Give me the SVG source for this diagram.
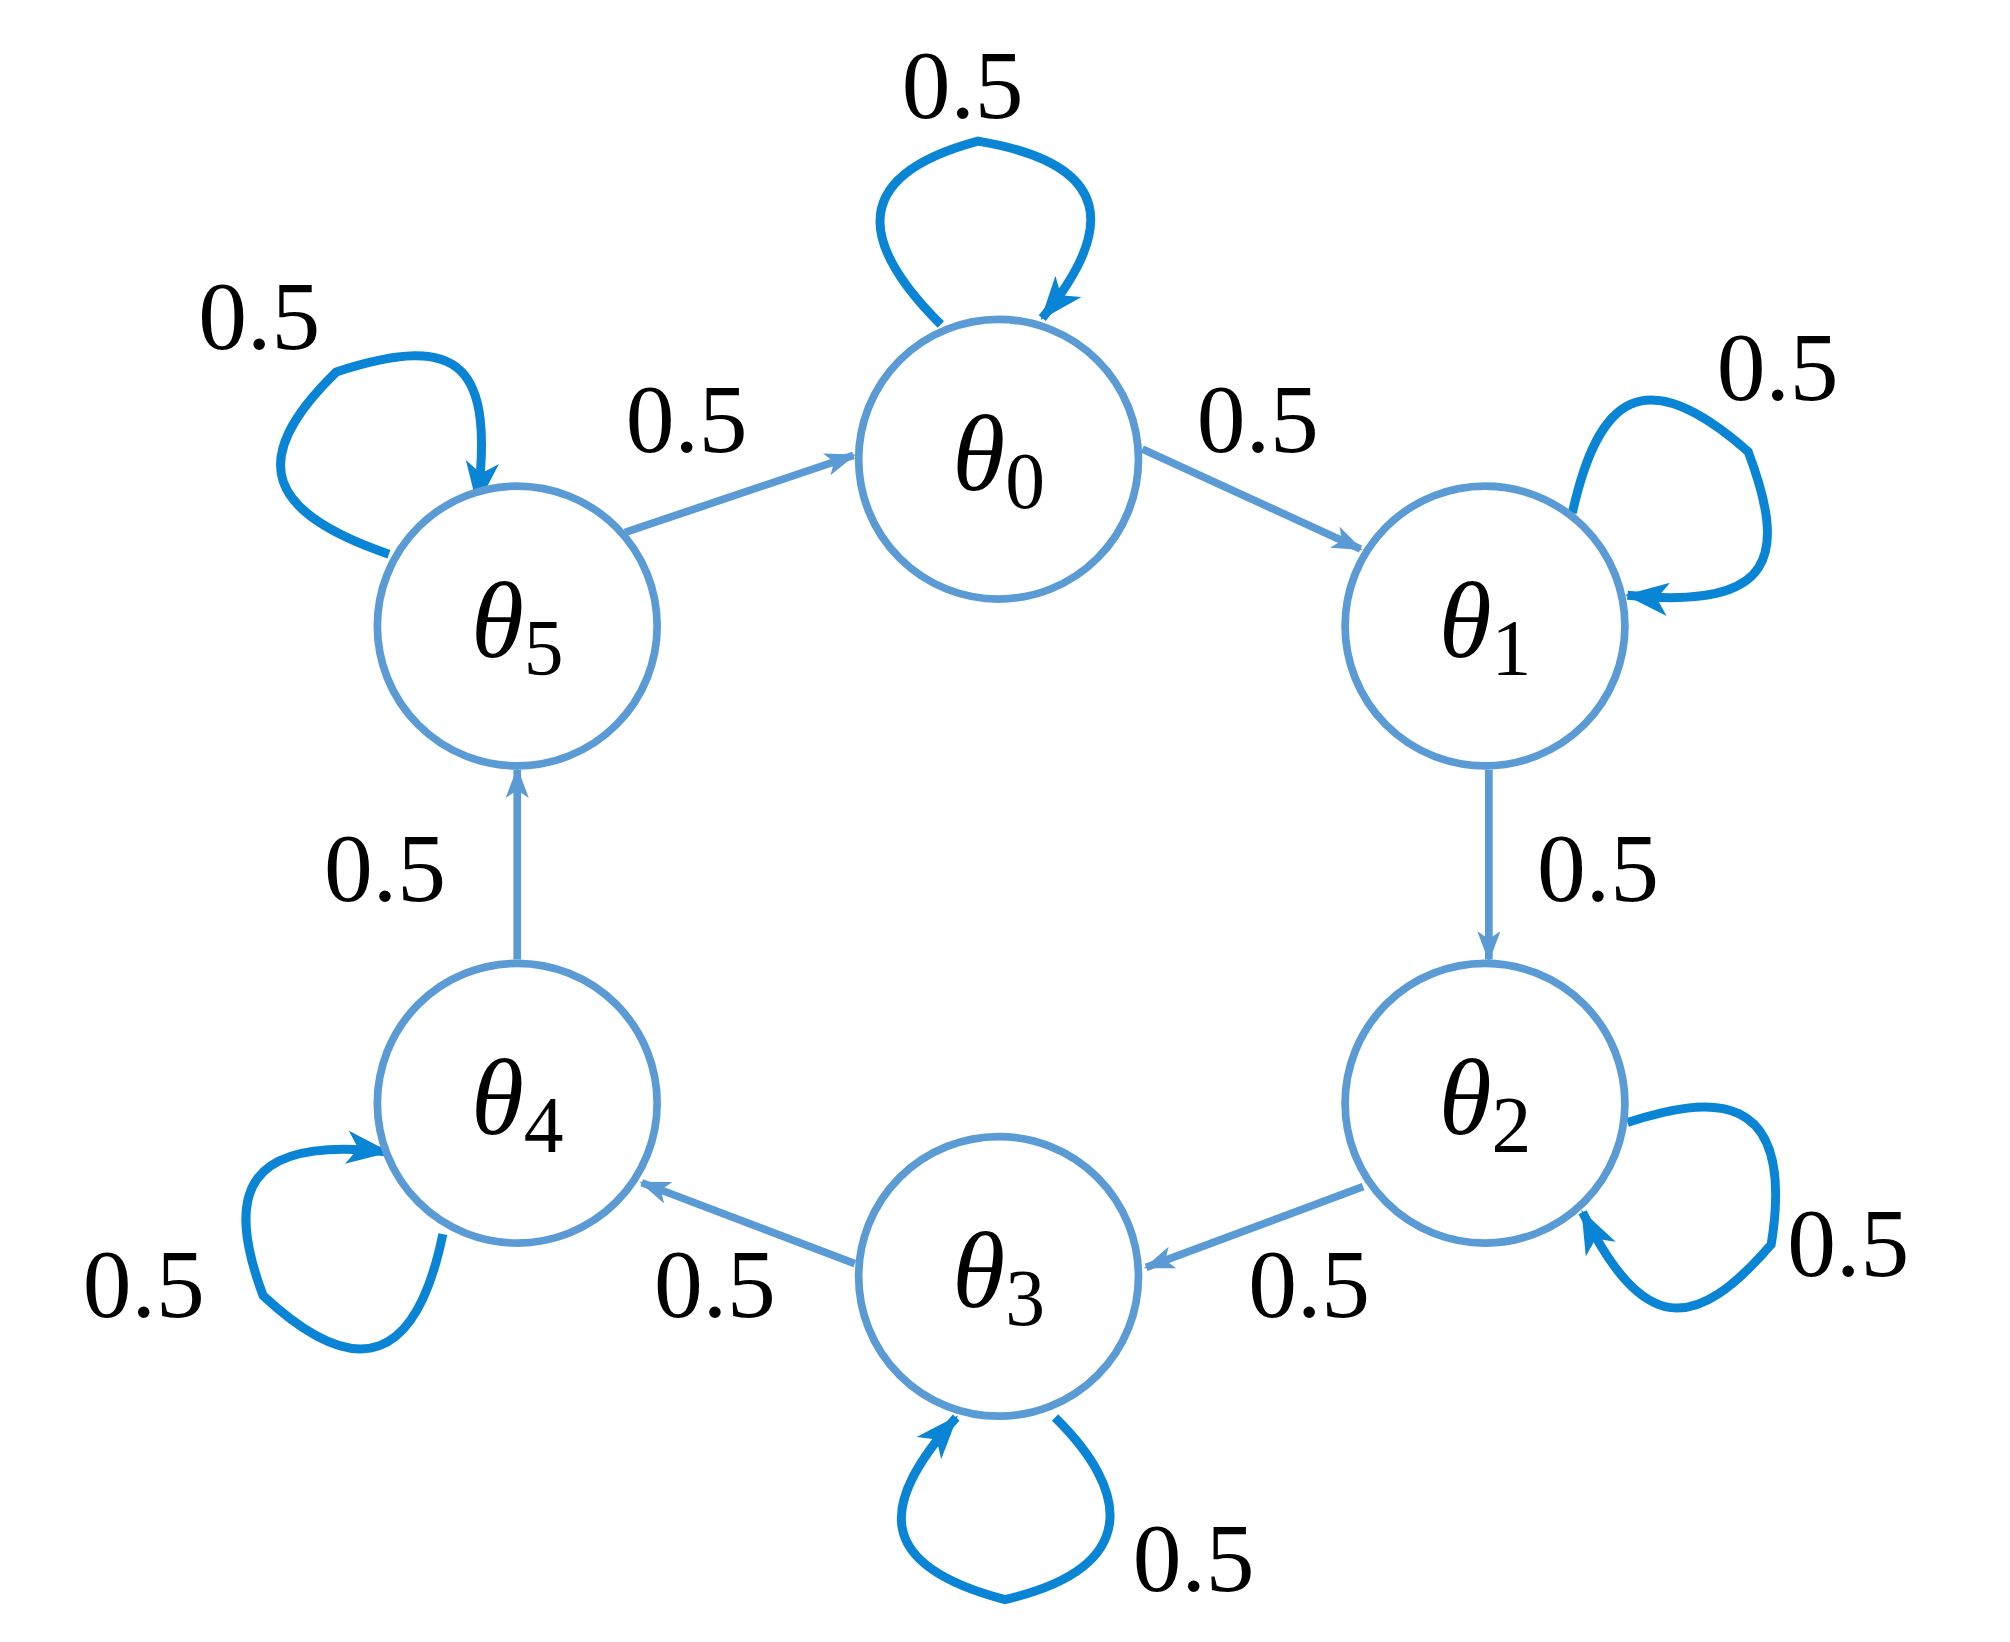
<svg xmlns="http://www.w3.org/2000/svg" width="2010" height="1642" viewBox="0 0 2010 1642">
<style>
.node{fill:#fff;stroke:#5b9bd5;stroke-width:6}
.edge{fill:none;stroke:#5b9bd5;stroke-width:6}
.loop{fill:none;stroke:#0a85d5;stroke-width:7}
.lbl{font-family:"Liberation Serif","DejaVu Serif",serif;font-size:76px;fill:#000;text-anchor:middle}
.th{font-family:"Liberation Serif","DejaVu Serif",serif;font-size:84px;font-style:italic;fill:#000;text-anchor:middle}
.sub{font-style:normal;font-size:62px}
</style>
<defs>
<marker id="ae" viewBox="0 0 24 18" refX="22" refY="9" markerWidth="24" markerHeight="18" markerUnits="userSpaceOnUse" orient="auto"><path d="M0,0 L24,9 L0,18 L6,9 Z" fill="#5b9bd5"/></marker>
<marker id="al" viewBox="0 0 34 26" refX="32" refY="13" markerWidth="34" markerHeight="26" markerUnits="userSpaceOnUse" orient="auto"><path d="M0,0 L34,13 L0,26 L9,13 Z" fill="#0a85d5"/></marker>
</defs>
<rect width="2010" height="1642" fill="#fff"/>
<g transform="scale(1.2835,1.2828)">
<g id="connectors">
<line class="edge" x1="890" y1="350" x2="1060" y2="428" marker-end="url(#ae)"/>
<line class="edge" x1="1160" y1="600" x2="1160" y2="748" marker-end="url(#ae)"/>
<line class="edge" x1="1062" y1="925" x2="893" y2="988" marker-end="url(#ae)"/>
<line class="edge" x1="666" y1="985" x2="500" y2="922" marker-end="url(#ae)"/>
<line class="edge" x1="403" y1="748" x2="403" y2="600" marker-end="url(#ae)"/>
<line class="edge" x1="487" y1="415" x2="665" y2="355" marker-end="url(#ae)"/>
<path class="loop" d="M733,253 C680,200 650,140 762,110 C870,128 868,180 812,248" marker-end="url(#al)"/>
<path class="loop" d="M1225,400 C1245,310 1280,280 1362,352 C1392,432 1385,476 1268,464" marker-end="url(#al)"/>
<path class="loop" d="M1268,875 C1330,855 1400,845 1380,970 C1320,1040 1280,1040 1233,945" marker-end="url(#al)"/>
<path class="loop" d="M822,1105 C880,1162 890,1222 783,1247 C680,1220 685,1172 745,1105" marker-end="url(#al)"/>
<path class="loop" d="M345,962 C325,1060 280,1080 205,1010 C175,930 190,885 302,898" marker-end="url(#al)"/>
<path class="loop" d="M303,432 C210,400 190,360 262,290 C360,258 385,285 372,392" marker-end="url(#al)"/>
</g>
<g id="n0"><circle class="node" cx="778" cy="358" r="109"/><text class="th" x="778" y="382">θ<tspan class="sub" dy="14">0</tspan></text></g>
<g id="n1"><circle class="node" cx="1157" cy="488" r="109"/><text class="th" x="1157" y="512">θ<tspan class="sub" dy="14">1</tspan></text></g>
<g id="n2"><circle class="node" cx="1157" cy="860" r="109"/><text class="th" x="1157" y="884">θ<tspan class="sub" dy="14">2</tspan></text></g>
<g id="n3"><circle class="node" cx="778" cy="995" r="109"/><text class="th" x="778" y="1019">θ<tspan class="sub" dy="14">3</tspan></text></g>
<g id="n4"><circle class="node" cx="403" cy="860" r="109"/><text class="th" x="403" y="884">θ<tspan class="sub" dy="14">4</tspan></text></g>
<g id="n5"><circle class="node" cx="403" cy="488" r="109"/><text class="th" x="403" y="512">θ<tspan class="sub" dy="14">5</tspan></text></g>
<g id="labels">
<text class="lbl" x="750" y="92">0.5</text>
<text class="lbl" x="202" y="272">0.5</text>
<text class="lbl" x="535" y="352">0.5</text>
<text class="lbl" x="980" y="352">0.5</text>
<text class="lbl" x="1385" y="312">0.5</text>
<text class="lbl" x="1245" y="702">0.5</text>
<text class="lbl" x="300" y="702">0.5</text>
<text class="lbl" x="1440" y="995">0.5</text>
<text class="lbl" x="1020" y="1027">0.5</text>
<text class="lbl" x="557" y="1027">0.5</text>
<text class="lbl" x="112" y="1027">0.5</text>
<text class="lbl" x="930" y="1240">0.5</text>
</g>
</g>
</svg>
